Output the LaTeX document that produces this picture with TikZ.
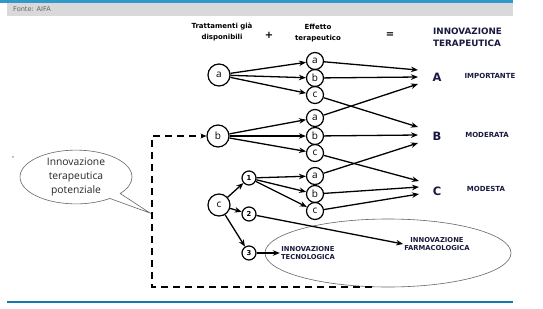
\documentclass[tikz,border=0pt]{standalone}
\usepackage{fontspec}
\setmainfont{DejaVu Sans}
\newfontfamily\calloutfont{Open Sans}
\usetikzlibrary{arrows.meta,shapes.geometric,shapes.callouts}
\definecolor{topblue}{HTML}{2E9AC6}
\definecolor{botblue}{HTML}{1479AD}
\definecolor{band}{HTML}{D9D9DB}
\definecolor{navy}{HTML}{1A1A40}
\tikzset{
  srcnode/.style={circle,draw,line width=1.2pt,minimum size=22pt,inner sep=0pt,font=\calloutfont\fontsize{10}{10}\selectfont},
  midnode/.style={circle,draw,line width=1.2pt,minimum size=17pt,inner sep=0pt,font=\calloutfont\fontsize{10}{10}\selectfont},
  numnode/.style={circle,draw,line width=1.2pt,minimum size=14pt,inner sep=0pt,font=\bfseries\fontsize{6.8}{6.8}\selectfont},
  arr/.style={line width=1.3pt,-{Stealth[length=7pt,width=5.5pt]}},
  dasharr/.style={line width=1.7pt,dash pattern=on 7pt off 5pt,-{Stealth[length=6pt,width=5pt]}},
  hdr/.style={font=\bfseries\fontsize{7}{10.5}\selectfont,align=center,inner sep=0pt},
  lvl/.style={font=\bfseries\fontsize{7}{7}\selectfont,text=navy,inner sep=0pt},
  big/.style={font=\bfseries\fontsize{11.5}{11.5}\selectfont,text=navy,inner sep=0pt},
  innov/.style={font=\bfseries\fontsize{6.8}{8.8}\selectfont,text=navy,align=center,inner sep=1pt},
}
\begin{document}
\begin{tikzpicture}[x=1pt,y=-1pt]
\useasboundingbox (0,0) rectangle (543,308);
\fill[white] (0,0) rectangle (543,308);
% frame
\fill[topblue] (0,0) rectangle (513,3);
\fill[band] (7,3) rectangle (513,15.5);
\node[anchor=west,inner sep=0pt,text=black!60,font=\fontsize{6.6}{6.6}\selectfont] (src) at (13,9.5) {Fonte: AIFA};
\fill[botblue] (7,301) rectangle (513,303);
\node[inner sep=0pt,text=botblue,font=\fontsize{4}{4}\selectfont] (vv) at (13,157) {v};
% headers
\node[hdr] (h1) at (222,32) {Trattamenti già\\disponibili};
\node[hdr,font=\bfseries\fontsize{10}{10}\selectfont] (plus) at (269,35) {+};
\node[hdr] (h2) at (318,33) {Effetto\\terapeutico};
\node[hdr,font=\bfseries\fontsize{10}{10}\selectfont] (eq) at (390,35) {=};
\node[anchor=west,font=\bfseries\fontsize{8.8}{12}\selectfont,text=navy,align=left,inner sep=0pt] (h3) at (433,37) {INNOVAZIONE\\TERAPEUTICA};
% source nodes
\node[srcnode] (sa) at (219,75) {a};
\node[srcnode] (sb) at (218,136) {b};
\node[srcnode] (sc) at (219,205) {c};
% middle
\node[midnode] (m1a) at (315,61) {a};
\node[midnode] (m1b) at (315,78) {b};
\node[midnode] (m1c) at (315,95) {c};
\node[midnode] (m2a) at (315,118) {a};
\node[midnode] (m2b) at (315,136) {b};
\node[midnode] (m2c) at (315,153) {c};
\node[midnode] (m3a) at (315,176) {a};
\node[midnode] (m3b) at (315,194) {b};
\node[midnode] (m3c) at (315,211) {c};
% numbers
\node[numnode] (n1) at (249,178) {1};
\node[numnode] (n2) at (249,214) {2};
\node[numnode] (n3) at (249,253) {3};
% targets
\coordinate (tA1) at (418,70);
\coordinate (tA2) at (418,77);
\coordinate (tA3) at (418,84);
\coordinate (tB1) at (418,127);
\coordinate (tB2) at (418,135);
\coordinate (tB3) at (418,143);
\coordinate (tC1) at (419,181);
\coordinate (tC2) at (419,187);
\coordinate (tC3) at (419,194);
\node[big] (A) at (437,77) {A};
\node[big] (B) at (437,136) {B};
\node[big] (C) at (437,191) {C};
\node[lvl] (lA) at (490,76) {IMPORTANTE};
\node[lvl] (lB) at (487,135) {MODERATA};
\node[lvl] (lC) at (486,189) {MODESTA};
% ellipse
\node[ellipse,draw=black!60,line width=0.6pt,minimum width=246pt,minimum height=68pt] (ell) at (388,253) {};
\node[innov] (tec) at (308,253) {INNOVAZIONE\\TECNOLOGICA};
\node[innov] (far) at (437,244) {INNOVAZIONE\\FARMACOLOGICA};
% callout
\node[ellipse callout,draw=black!60,line width=0.6pt,minimum width=112pt,minimum height=52pt,
  callout absolute pointer={(150,213)},align=center,inner sep=0pt,
  font=\calloutfont\fontsize{10.3}{14}\selectfont,text=black!85] (call) at (76,177) {Innovazione\\terapeutica\\potenziale};
% arrows source->middle
\draw[arr] (sa) -- (m1a);
\draw[arr] (sa) -- (m1b);
\draw[arr] (sa) -- (m1c);
\draw[arr] (sb) -- (m2a);
\draw[arr] (sb) -- (m2b);
\draw[arr] (sb) -- (m2c);
\draw[arr] (sc) -- (n1);
\draw[arr] (sc) -- (n2);
\draw[arr] (sc) -- (n3);
\draw[arr] (n1) -- (m3a);
\draw[arr] (n1) -- (m3b);
\draw[arr] (n1) -- (m3c);
% middle->targets
\draw[arr] (m1a) -- (tA1);
\draw[arr] (m1b) -- (tA2);
\draw[arr] (m2a) -- (tA3);
\draw[arr] (m1c) -- (tB1);
\draw[arr] (m2b) -- (tB2);
\draw[arr] (m3a) -- (tB3);
\draw[arr] (m2c) -- (tC1);
\draw[arr] (m3b) -- (tC2);
\draw[arr] (m3c) -- (tC3);
% 2 and 3
\draw[arr] (n2) -- (far.west);
\draw[arr] (n3) -- (tec.west);
% dashed feedback
\coordinate (d0) at (372,287);
\coordinate (d1) at (152,287);
\draw[dasharr] (d0) -- (d1) |- (sb.west);
\end{tikzpicture}
\end{document}
